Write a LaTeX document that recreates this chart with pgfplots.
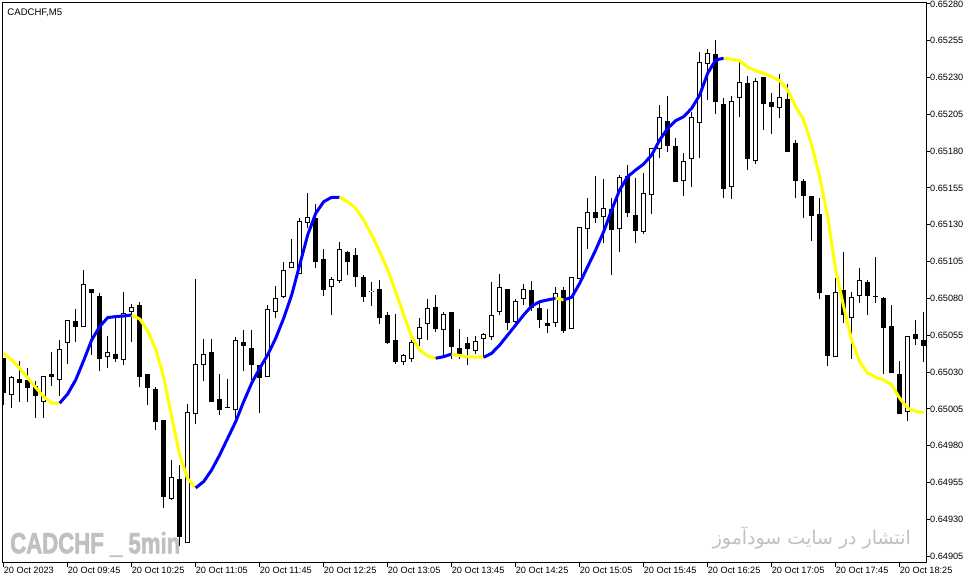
\documentclass[border=0pt]{standalone}
\usepackage{pgfplots}
\pgfplotsset{compat=1.18}
\usepackage{pgfplotstable}
\usepackage{fontspec}
\usepackage{graphicx}
\setmainfont{Liberation Sans}
\newfontfamily\wmfont[BoldFeatures={FakeBold=2.5}]{Liberation Sans}
\newfontfamily\arabicfont[Script=Arabic]{DejaVu Sans}
\TeXXeTstate=1
\definecolor{maBlue}{RGB}{0,0,255}
\definecolor{maYellow}{RGB}{255,255,0}
\definecolor{wm}{RGB}{192,192,192}

\pgfplotstableread{
i o h l c m
0 0.650396 0.650396 0.650077 0.650157 0.650427
1 0.650143 0.650276 0.650059 0.650265 0.650383
2 0.650254 0.650376 0.650100 0.650229 0.650326
3 0.650245 0.650326 0.650100 0.650195 0.650260
4 0.650206 0.650240 0.649991 0.650136 0.650195
5 0.650096 0.650272 0.649991 0.650272 0.650134
6 0.650288 0.650437 0.650208 0.650265 0.650089
7 0.650249 0.650518 0.650140 0.650455 0.650089
8 0.650496 0.650652 0.650353 0.650652 0.650152
9 0.650647 0.650729 0.650503 0.650609 0.650247
10 0.650605 0.650994 0.650605 0.650897 0.650379
11 0.650865 0.650865 0.650417 0.650835 0.650518
12 0.650817 0.650835 0.650310 0.650391 0.650609
13 0.650401 0.650546 0.650330 0.650435 0.650670
14 0.650421 0.650688 0.650371 0.650391 0.650677
15 0.650385 0.650846 0.650349 0.650704 0.650681
16 0.650711 0.650765 0.650503 0.650740 0.650688
17 0.650756 0.650778 0.650201 0.650269 0.650661
18 0.650288 0.650288 0.650077 0.650195 0.650580
19 0.650186 0.650201 0.649908 0.649964 0.650457
20 0.649975 0.649975 0.649380 0.649455 0.650267
21 0.649439 0.649704 0.649432 0.649586 0.649996
22 0.649573 0.649670 0.649120 0.649183 0.649738
23 0.649138 0.650084 0.649138 0.650032 0.649575
24 0.650014 0.650930 0.649946 0.650353 0.649514
25 0.650349 0.650523 0.650242 0.650421 0.649557
26 0.650435 0.650523 0.650096 0.650100 0.649636
27 0.650116 0.650288 0.650009 0.650043 0.649738
28 0.650066 0.650254 0.650055 0.650055 0.649851
29 0.650043 0.650537 0.649987 0.650516 0.649964
30 0.650507 0.650586 0.650310 0.650480 0.650100
31 0.650464 0.650586 0.650247 0.650349 0.650225
32 0.650349 0.650349 0.650025 0.650263 0.650326
33 0.650269 0.650756 0.650269 0.650727 0.650417
34 0.650711 0.650885 0.650666 0.650801 0.650530
35 0.650812 0.651046 0.650801 0.650992 0.650666
36 0.651005 0.651204 0.651005 0.651046 0.650824
37 0.650964 0.651345 0.650964 0.651326 0.651028
38 0.651315 0.651516 0.651279 0.651351 0.651231
39 0.651345 0.651438 0.651009 0.651050 0.651378
40 0.651068 0.651134 0.650819 0.650858 0.651457
41 0.650876 0.650948 0.650688 0.650932 0.651487
42 0.650921 0.651186 0.650907 0.651134 0.651487
43 0.651114 0.651123 0.650960 0.651050 0.651457
44 0.651095 0.651141 0.650880 0.650948 0.651412
45 0.650944 0.650960 0.650778 0.650812 0.651333
46 0.650842 0.650910 0.650751 0.650853 0.651231
47 0.650863 0.650926 0.650627 0.650666 0.651118
48 0.650688 0.650706 0.650491 0.650496 0.650994
49 0.650518 0.650693 0.650356 0.650371 0.650846
50 0.650367 0.650421 0.650349 0.650415 0.650688
51 0.650387 0.650518 0.650371 0.650503 0.650541
52 0.650523 0.650666 0.650480 0.650609 0.650451
53 0.650627 0.650795 0.650518 0.650734 0.650410
54 0.650740 0.650824 0.650571 0.650591 0.650394
55 0.650586 0.650706 0.650417 0.650693 0.650405
56 0.650706 0.650711 0.650389 0.650473 0.650423
57 0.650462 0.650593 0.650389 0.650423 0.650412
58 0.650496 0.650541 0.650349 0.650457 0.650405
59 0.650444 0.650546 0.650423 0.650514 0.650401
60 0.650525 0.650564 0.650394 0.650559 0.650401
61 0.650541 0.650914 0.650518 0.650688 0.650428
62 0.650706 0.650966 0.650688 0.650876 0.650484
63 0.650865 0.650865 0.650586 0.650632 0.650552
64 0.650643 0.650795 0.650609 0.650783 0.650620
65 0.650795 0.650897 0.650756 0.650863 0.650688
66 0.650858 0.650919 0.650717 0.650734 0.650749
67 0.650734 0.650778 0.650602 0.650654 0.650778
68 0.650632 0.650729 0.650564 0.650613 0.650790
69 0.650632 0.650880 0.650609 0.650835 0.650801
70 0.650858 0.650880 0.650564 0.650582 0.650790
71 0.650591 0.650948 0.650591 0.650944 0.650808
72 0.650932 0.651288 0.650932 0.651288 0.650903
73 0.651270 0.651480 0.651134 0.651389 0.651016
74 0.651385 0.651632 0.651311 0.651345 0.651129
75 0.651351 0.651609 0.651175 0.651416 0.651254
76 0.651406 0.651480 0.650960 0.651265 0.651401
77 0.651270 0.651638 0.651118 0.651623 0.651537
78 0.651632 0.651706 0.651351 0.651383 0.651627
79 0.651367 0.651616 0.651175 0.651260 0.651672
80 0.651249 0.651650 0.651236 0.651514 0.651713
81 0.651503 0.651820 0.651372 0.651820 0.651774
82 0.651813 0.652114 0.651752 0.652030 0.651876
83 0.652005 0.652175 0.651797 0.651837 0.651955
84 0.651835 0.651888 0.651593 0.651593 0.652007
85 0.651600 0.651790 0.651498 0.651733 0.652034
86 0.651745 0.652068 0.651559 0.652030 0.652091
87 0.651989 0.652475 0.651752 0.652403 0.652181
88 0.652392 0.652494 0.652148 0.652469 0.652329
89 0.652458 0.652555 0.652050 0.652136 0.652419
90 0.652120 0.652159 0.651480 0.651541 0.652431
91 0.651555 0.652175 0.651474 0.652141 0.652424
92 0.652159 0.652408 0.652030 0.652272 0.652414
93 0.652261 0.652310 0.651672 0.651745 0.652370
94 0.651733 0.652299 0.651711 0.652279 0.652346
95 0.652302 0.652302 0.651944 0.652120 0.652329
96 0.652132 0.652193 0.651915 0.652102 0.652306
97 0.652091 0.652322 0.652027 0.652170 0.652279
98 0.652154 0.652256 0.651793 0.651797 0.652215
99 0.651854 0.651876 0.651480 0.651600 0.652102
100 0.651598 0.651611 0.651345 0.651498 0.652012
101 0.651496 0.651496 0.651192 0.651362 0.651842
102 0.651374 0.651480 0.650795 0.650835 0.651627
103 0.650824 0.650824 0.650344 0.650412 0.651355
104 0.650401 0.650937 0.650401 0.650842 0.650994
105 0.650858 0.651118 0.650632 0.650688 0.650744
106 0.650666 0.650842 0.650387 0.650812 0.650518
107 0.650819 0.651009 0.650772 0.650926 0.650371
108 0.650910 0.650926 0.650688 0.650819 0.650292
109 0.650816 0.651084 0.650772 0.650809 0.650265
110 0.650806 0.650812 0.650288 0.650602 0.650247
111 0.650615 0.650756 0.650292 0.650292 0.650213
112 0.650288 0.650376 0.650014 0.650014 0.650123
113 0.650028 0.650546 0.649971 0.650546 0.650055
114 0.650559 0.650654 0.650484 0.650523 0.650032
115 0.650518 0.650711 0.650371 0.650480 0.650028
}\candles

\begin{document}
\begin{tikzpicture}
% watermarks (drawn below the chart)
\node[anchor=base west, inner sep=0pt, text=wm] at (7.3bp,9.4bp)
  {\scalebox{0.76}[1]{\fontsize{29.3}{30}\selectfont\wmfont\bfseries CADCHF \_ 5min}};
\node[anchor=base east, inner sep=0pt, text=wm] at (908.3bp,18.2bp)
  {\resizebox{198bp}{!}{\arabicfont\beginR انتشار در سایت سودآموز\endR}};
\begin{axis}[
  at={(0,0)}, anchor=south west,
  scale only axis, width=923.3bp, height=560bp,
  xmin=-0.125, xmax=115.29, ymin=0.649006, ymax=0.652808,
  axis line style={line width=1bp, black},
  xtick={0,8,...,112},
  xticklabels={20 Oct 2023,20 Oct 09:45,20 Oct 10:25,20 Oct 11:05,20 Oct 11:45,20 Oct 12:25,20 Oct 13:05,20 Oct 13:45,20 Oct 14:25,20 Oct 15:05,20 Oct 15:45,20 Oct 16:25,20 Oct 17:05,20 Oct 17:45,20 Oct 18:25},
  ytick={0.64905,0.6493,0.64955,0.6498,0.65005,0.6503,0.65055,0.6508,0.65105,0.6513,0.65155,0.6518,0.65205,0.6523,0.65255,0.6528},
  yticklabels={0.64905,0.64930,0.64955,0.64980,0.65005,0.65030,0.65055,0.65080,0.65105,0.65130,0.65155,0.65180,0.65205,0.65230,0.65255,0.65280},
  xtick pos=left, ytick pos=right, xticklabel pos=left, yticklabel pos=right,
  tick align=outside, major tick length=4bp,
  tick style={black, line width=1bp},
  ticklabel style={font=\fontsize{9.2}{11}\selectfont, inner sep=0pt},
  xticklabel style={anchor=north west},
  yticklabel style={anchor=west},
  /pgf/number format/assume math mode=true,
]
% wicks
\addplot[draw=none, mark=none, forget plot,
  error bars/.cd, y dir=plus, y explicit, error mark=none,
  error bar style={draw=black, line width=1bp}]
  table[x=i, y=l, y error plus expr=\thisrow{h}-\thisrow{l}] {\candles};
% bearish bodies
\addplot[draw=none, mark=none, forget plot,
  restrict expr to domain={\thisrow{o}-\thisrow{c}}{0:1},
  error bars/.cd, y dir=plus, y explicit, error mark=none,
  error bar style={draw=black, line width=4.6bp}]
  table[x=i, y=c, y error plus expr=\thisrow{o}-\thisrow{c}] {\candles};
% bullish bodies: outline
\addplot[draw=none, mark=none, forget plot,
  restrict expr to domain={\thisrow{c}-\thisrow{o}}{0.0000001:1},
  error bars/.cd, y dir=plus, y explicit, error mark=none,
  error bar style={draw=black, line width=4.6bp}]
  table[x=i, y=o, y error plus expr=\thisrow{c}-\thisrow{o}] {\candles};
% bullish bodies: white inside
\addplot[draw=none, mark=none, forget plot,
  restrict expr to domain={\thisrow{c}-\thisrow{o}}{0.0000001:1},
  error bars/.cd, y dir=plus, y explicit, error mark=none,
  error bar style={draw=white, line width=2.6bp}]
  table[x=i, y expr=\thisrow{o}+0.0000068, y error plus expr=\thisrow{c}-\thisrow{o}-0.0000136] {\candles};
% moving average, yellow when falling, blue when rising
\addplot[maYellow, line width=3bp, line join=round, mark=none, restrict x to domain=0:7] table[x=i,y=m] {\candles};
\addplot[maBlue, line width=3bp, line join=round, mark=none, restrict x to domain=7:16] table[x=i,y=m] {\candles};
\addplot[maYellow, line width=3bp, line join=round, mark=none, restrict x to domain=16:24] table[x=i,y=m] {\candles};
\addplot[maBlue, line width=3bp, line join=round, mark=none, restrict x to domain=24:42] table[x=i,y=m] {\candles};
\addplot[maYellow, line width=3bp, line join=round, mark=none, restrict x to domain=42:54] table[x=i,y=m] {\candles};
\addplot[maBlue, line width=3bp, line join=round, mark=none, restrict x to domain=54:56] table[x=i,y=m] {\candles};
\addplot[maYellow, line width=3bp, line join=round, mark=none, restrict x to domain=56:60] table[x=i,y=m] {\candles};
\addplot[maBlue, line width=3bp, line join=round, mark=none, restrict x to domain=60:69] table[x=i,y=m] {\candles};
\addplot[maYellow, line width=3bp, line join=round, mark=none, restrict x to domain=69:70] table[x=i,y=m] {\candles};
\addplot[maBlue, line width=3bp, line join=round, mark=none, restrict x to domain=70:90] table[x=i,y=m] {\candles};
\addplot[maYellow, line width=3bp, line join=round, mark=none, restrict x to domain=90:115] table[x=i,y=m] {\candles};
\node[anchor=base west, inner sep=0pt, font=\fontsize{9.6}{11}\selectfont] at (rel axis cs:0.00498,0.97768) {CADCHF,M5};
\end{axis}
\pgfresetboundingbox
\path (-2.7bp,-21.3bp) rectangle (969.3bp,562.7bp);
\end{tikzpicture}
\end{document}
